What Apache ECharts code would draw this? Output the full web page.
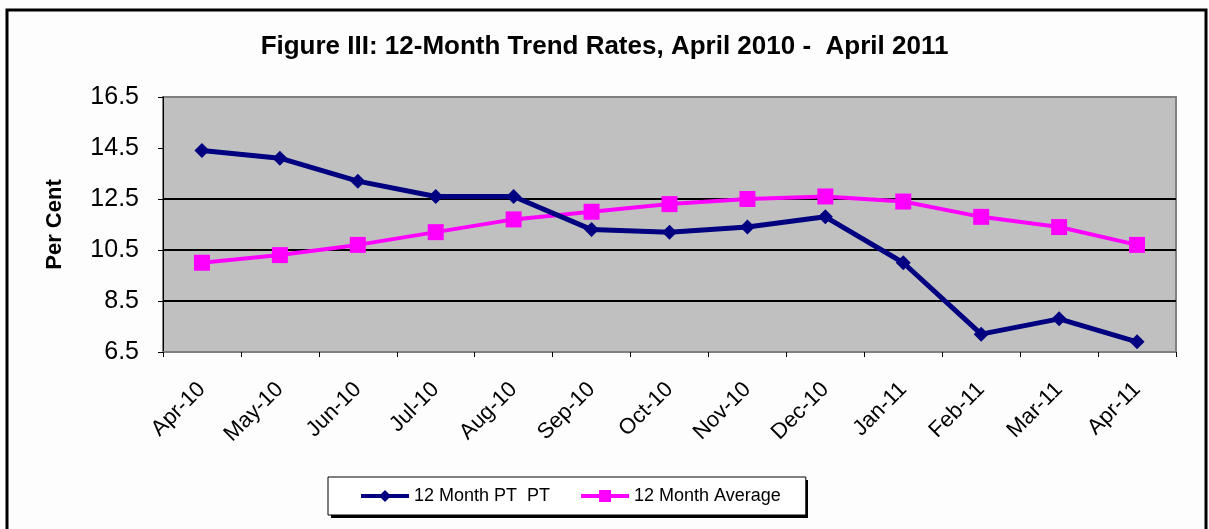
<!DOCTYPE html>
<html>
<head>
<meta charset="utf-8">
<script src="https://cdn.jsdelivr.net/npm/echarts@6/dist/echarts.min.js"></script>
<style>
html,body{margin:0;padding:0;background:#fff;}
#c{width:1209px;height:529px;}
</style>
</head>
<body>
<div id="c"></div>
<script>
const categories = ['Apr-10','May-10','Jun-10','Jul-10','Aug-10','Sep-10','Oct-10','Nov-10','Dec-10','Jan-11','Feb-11','Mar-11','Apr-11'];
const ptValues = [14.4, 14.1, 13.2, 12.6, 12.6, 11.3, 11.2, 11.4, 11.8, 10.0, 7.2, 7.8, 6.9];
const avgValues = [10.0, 10.3, 10.7, 11.2, 11.7, 12.0, 12.3, 12.5, 12.6, 12.4, 11.8, 11.4, 10.7];
const seriesNames = ['12 Month PT  PT', '12 Month Average'];
const titleText = 'Figure III: 12-Month Trend Rates, April 2010 -  April 2011';
const yAxisName = 'Per Cent';

const chart = echarts.init(document.getElementById('c'), null, {renderer:'canvas'});
const font = 'Liberation Sans, Arial, sans-serif';
chart.setOption({
  animation: false,
  backgroundColor: '#fdfdfd',
  textStyle: {fontFamily: font},
  title: {
    text: titleText,
    left: 'center',
    top: 29,
    textStyle: {fontSize: 26, fontWeight: 'bold', color: '#000', fontFamily: font}
  },
  graphic: [
    {type:'rect', shape:{x:7, y:10, width:1199, height:530}, style:{fill:'none', stroke:'#000', lineWidth:3}, z:-1},
    {type:'rect', shape:{x:331, y:480, width:477, height:38}, style:{fill:'#000'}, z:0}
  ],
  legend: {
    left: 328, top: 477,
    padding: [10, 25, 10, 31],
    itemGap: 29,
    itemWidth: 48, itemHeight: 15,
    backgroundColor: '#fff',
    borderColor: '#000', borderWidth: 1,
    textStyle: {fontSize: 18, color:'#000', fontFamily: font},
    lineStyle: {width: 4},
    z: 5,
    data: seriesNames
  },
  grid: {
    left: 163, right: 33, top: 97, bottom: 177,
    show: true, backgroundColor: '#C0C0C0', borderColor: '#808080', borderWidth: 2,
    containLabel: false
  },
  xAxis: {
    type: 'category',
    data: categories,
    boundaryGap: true,
    axisLine: {show: true, lineStyle:{color:'#808080', width:2}},
    axisTick: {show: true, length: 5, lineStyle:{color:'#000', width:1}},
    axisLabel: {rotate: 45, fontSize: 22, color:'#000', margin: 34, fontFamily: font, interval: 0},
    splitLine: {show: false}
  },
  yAxis: {
    type: 'value',
    min: 6.5, max: 16.5, interval: 2,
    name: yAxisName,
    nameLocation: 'middle',
    nameRotate: 90,
    nameGap: 97,
    nameTextStyle: {fontSize: 22, fontWeight:'bold', color:'#000', fontFamily: font},
    axisLine: {show: true, lineStyle:{color:'#000', width:1}},
    axisTick: {show: true, length: 5, lineStyle:{color:'#000'}},
    axisLabel: {fontSize: 25, color:'#000', margin: 24, fontFamily: font, formatter: v => v.toFixed(1)},
    splitLine: {show: true, lineStyle:{color:['transparent','#000','#000','#000','transparent','transparent'], width:2}}
  },
  series: [
    {
      name: seriesNames[0], type: 'line', data: ptValues,
      symbol: 'diamond', symbolSize: 15,
      lineStyle: {color:'#000080', width: 5},
      itemStyle: {color:'#000080'},
      z: 3
    },
    {
      name: seriesNames[1], type: 'line', data: avgValues,
      symbol: 'rect', symbolSize: 16,
      lineStyle: {color:'#FF00FF', width: 4},
      itemStyle: {color:'#FF00FF'},
      z: 2
    }
  ]
});
</script>
</body>
</html>
